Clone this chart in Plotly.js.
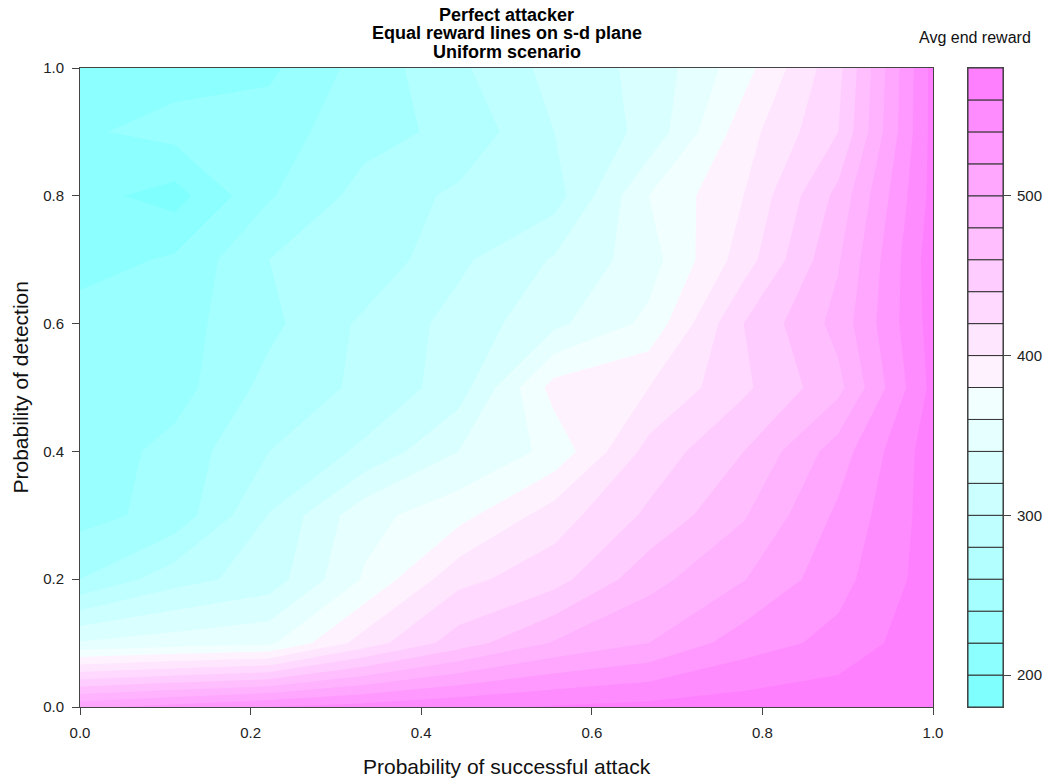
<!DOCTYPE html>
<html><head><meta charset="utf-8">
<script src="https://cdn.plot.ly/plotly-3.0.1.min.js"></script>
<style>html,body{margin:0;padding:0;background:#fff}#chart{width:1047px;height:781px}</style>
</head><body><div id="chart"></div>
<script>
// Probability of successful attack (x grid)
const sProb = [0, 0.111, 0.222, 0.333, 0.444, 0.556, 0.667, 0.778, 0.889, 1.0];
// Probability of detection (y grid)
const dProb = [0, 0.1, 0.2, 0.3, 0.4, 0.5, 0.6, 0.7, 0.8, 0.9, 1.0];
// Avg end reward, one row per detection probability (bottom to top)
const reward = [
  [515, 528, 540, 548, 556, 562, 566, 570, 574, 577],
  [342, 350, 356, 409, 450, 482, 500, 530, 546, 575],
  [260, 292, 309, 362, 414, 432, 473, 499, 533, 570],
  [233, 247, 301, 353, 373, 410, 444, 478, 524, 570],
  [227, 247, 280, 304, 340, 366, 427, 460, 510, 572],
  [228, 231, 267, 284, 310, 388, 400, 436, 474, 566],
  [230, 232, 255, 284, 307, 335, 365, 440, 487, 569],
  [211, 223, 260, 265, 296, 322, 351, 410, 478, 572],
  [207, 192, 238, 267, 284, 291, 360, 400, 466, 567],
  [217, 227, 230, 253, 265, 300, 326, 391, 440, 567],
  [208, 212, 216, 248, 276, 307, 326, 372, 434, 567]
];
// contour levels
const levels = [180,200,220,240,260,280,300,320,340,360,380,400,420,440,460,480,500,520,540,560,580];
const axisTicks = [0, 0.2, 0.4, 0.6, 0.8, 1.0];
const axisTickLabels = ['0.0','0.2','0.4','0.6','0.8','1.0'];
const legendTicks = [200, 300, 400, 500];
const titleLines = ['Perfect attacker', 'Equal reward lines on s-d plane', 'Uniform scenario'];

// R's cm.colors(n)
function cmColors(n){
  const even = n % 2 === 0, k = Math.floor(n/2);
  const l1 = k + 1 - (even?1:0), l2 = n - k + (even?1:0);
  const out = [];
  const sEnd = even ? 0.5/k : 0;
  for (let i=0;i<l1;i++){
    const s = l1===1 ? 0.5 : 0.5 + (sEnd-0.5)*i/(l1-1);
    const v = Math.round(255*(1-s));
    out.push('rgb('+v+',255,255)');
  }
  for (let i=1;i<l2;i++){
    const s = 0.5*i/(l2-1);
    const v = Math.round(255*(1-s));
    out.push('rgb(255,'+v+',255)');
  }
  return out;
}
const nBands = levels.length - 1;
const palette = cmColors(nBands);
const slots = levels.length;
const scale = [[0, palette[0]]];
palette.forEach((c,k)=>{ scale.push([(k+0.5)/slots, c]); scale.push([(k+1.5)/slots, c]); });
scale.push([1, palette[nBands-1]]);

const main = {
  type:'contour', x:sProb, y:dProb, z:reward,
  autocontour:false, zauto:false, zmin:levels[0], zmax:levels[levels.length-1],
  contours:{start:levels[0], end:levels[levels.length-1], size:levels[1]-levels[0], coloring:'fill', showlines:false},
  line:{width:0, smoothing:0},
  colorscale:scale, showscale:false, hoverinfo:'x+y+z'
};
const legendBar = {
  type:'bar', xaxis:'x2', yaxis:'y2',
  x: palette.map(()=> 'reward'),
  base: levels.slice(0,-1),
  y: levels.slice(1).map((v,i)=> v - levels[i]),
  width: 1,
  marker:{color:palette, line:{color:'#333', width:1}},
  hoverinfo:'skip'
};

const W = 1047, L = 80, R = 0;
const pw = W - L - R;
const ff = 'Liberation Sans, Arial, Helvetica, sans-serif';
const mainRight = (933 - L)/pw;
const tickFont = {size:15, color:'#222'};
const titleShifts = [53.5, 35, 16.5];
const titleAnns = titleLines.map((t,i)=>({text:'<b>'+t+'</b>', xref:'paper', yref:'paper', x:mainRight/2, xanchor:'center', y:1, yanchor:'middle', yshift:titleShifts[i], showarrow:false, font:{size:18, color:'#000'}}));
const layout = {
  width:1047, height:781,
  margin:{l:L, r:R, t:68, b:74, pad:0},
  paper_bgcolor:'#fff', plot_bgcolor:'#fff',
  font:{family:ff, color:'#222', size:15},
  showlegend:false, bargap:0,
  xaxis:{domain:[0, mainRight], range:[0,1], tickmode:'array', tickvals:axisTicks, ticktext:axisTickLabels,
    ticks:'outside', ticklen:7, tickwidth:1, tickcolor:'#444', showline:true, linecolor:'#444', linewidth:1, mirror:true,
    showgrid:false, zeroline:false, tickfont:tickFont, ticklabelstandoff:5},
  yaxis:{domain:[0,1], range:[0,1], tickmode:'array', tickvals:axisTicks, ticktext:axisTickLabels,
    ticks:'outside', ticklen:7, tickwidth:1, tickcolor:'#444', showline:true, linecolor:'#444', linewidth:1, mirror:true,
    showgrid:false, zeroline:false, tickfont:tickFont, ticklabelstandoff:5},
  xaxis2:{domain:[(968-L)/pw, (1003-L)/pw], anchor:'y2', type:'category', range:[-0.5,0.5],
    showticklabels:false, ticks:'', showline:true, linecolor:'#444', linewidth:1, mirror:true, showgrid:false, zeroline:false, fixedrange:true},
  yaxis2:{domain:[0,1], anchor:'x2', side:'right', range:[levels[0], levels[levels.length-1]], tickmode:'array', tickvals:legendTicks,
    ticks:'outside', ticklen:7, tickwidth:1, tickcolor:'#444', showline:true, linecolor:'#444', linewidth:1, mirror:true,
    showgrid:false, zeroline:false, tickfont:tickFont, ticklabelstandoff:3, fixedrange:true},
  annotations: titleAnns.concat([
    {text:'Probability of successful attack', xref:'paper', yref:'paper', x:mainRight/2, xanchor:'center', y:0, yanchor:'middle', yshift:-59, showarrow:false, font:{size:21, color:'#111'}},
    {text:'Probability of detection', xref:'paper', yref:'paper', x:0, y:0.5, xanchor:'center', yanchor:'middle', xshift:-60, textangle:-90, showarrow:false, font:{size:21, color:'#111'}},
    {text:'Avg end reward', xref:'paper', yref:'paper', x:(975-L)/pw, xanchor:'center', y:1, yanchor:'middle', yshift:31, showarrow:false, font:{size:16, color:'#111'}}
  ])
};
Plotly.newPlot('chart', [main, legendBar], layout, {displayModeBar:false, staticPlot:true});
</script></body></html>
